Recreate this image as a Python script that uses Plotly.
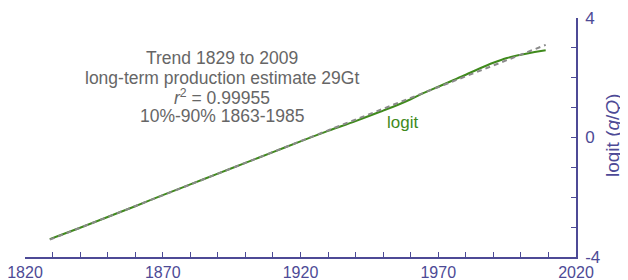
import plotly.graph_objects as go

years = [1829, 1840, 1850, 1860, 1870, 1880, 1890, 1900, 1910, 1920, 1930, 1940,
         1950, 1955, 1960, 1965, 1970, 1975, 1980, 1985, 1990, 1995, 2000, 2005, 2009]
logit_vals = [-3.40, -3.02, -2.66, -2.30, -1.93, -1.57, -1.21, -0.85, -0.49, -0.13,
              0.22, 0.55, 0.90, 1.08, 1.28, 1.50, 1.70, 1.90, 2.10, 2.31, 2.50, 2.66,
              2.77, 2.86, 2.92]
trend_years = [1829, 2009]
trend_vals = [-3.42, 3.10]
x_ticks = [1820, 1870, 1920, 1970, 2020]
y_ticks = [-4, 0, 4]
y_tick_text = ["-4", "0", "4"]
info_lines = ["Trend 1829 to 2009", "long-term production estimate 29Gt",
              "<i>r</i><sup>2</sup> = 0.99955", "10%-90% 1863-1985"]

axis_color = "#4d4a96"
font_family = "Liberation Sans"
fig = go.Figure()
fig.add_trace(go.Scatter(x=years, y=logit_vals, mode="lines",
                         line=dict(color="#3f8a1c", width=2), line_shape="spline"))
fig.add_trace(go.Scatter(x=trend_years, y=trend_vals, mode="lines",
                         line=dict(color="#8a8a8a", width=2, dash="5px,4px")))

# plot area (page px): x 25..576, y 18..257 ; page has an 8px body offset
line_px = [58, 78, 97, 116]
for line, ypx in zip(info_lines, line_px):
    fig.add_annotation(x=1891.5, y=1 - (ypx - 18) / 239, xref="x", yref="paper",
                       yanchor="middle", showarrow=False, text=line,
                       font=dict(size=17.5, color="#666666", family=font_family))
fig.add_annotation(x=1957, y=0.5, xref="x", yref="y", showarrow=False, text="logit",
                   yanchor="middle",
                   font=dict(size=17, color="#3f8a1c", family=font_family))
fig.add_annotation(x=(612 - 25) / 551, y=1 - (136 - 18) / 239, xref="paper", yref="paper",
                   xanchor="center", yanchor="middle", showarrow=False, textangle=-90,
                   text="logit (<i>q</i>/<i>Q</i>)",
                   font=dict(size=19, color=axis_color, family=font_family))

fig.update_layout(
    width=620, height=272,
    margin=dict(l=17, r=52, t=10, b=23, autoexpand=False),
    paper_bgcolor="white", plot_bgcolor="white",
    showlegend=False,
    font=dict(family=font_family, color=axis_color),
    xaxis=dict(range=[1820, 2020], tickvals=x_ticks, automargin=False,
               ticklabeloverflow="allow",
               ticks="inside", ticklen=5, tickcolor=axis_color,
               minor=dict(dtick=10, tick0=1820, ticks="inside", ticklen=5, tickcolor=axis_color),
               showline=True, linecolor=axis_color, linewidth=1.5,
               showgrid=False, zeroline=False,
               tickfont=dict(size=16, color=axis_color)),
    yaxis=dict(range=[-4, 4], side="right", tickvals=y_ticks, ticktext=y_tick_text,
               automargin=False, ticklabelstandoff=4, ticklabeloverflow="allow",
               ticks="inside", ticklen=5, tickcolor=axis_color,
               minor=dict(dtick=1, tick0=0, ticks="inside", ticklen=5, tickcolor=axis_color),
               showline=True, linecolor=axis_color, linewidth=1.5,
               showgrid=False, zeroline=False,
               tickfont=dict(size=17, color=axis_color)),
)
fig.write_html("out.html")
